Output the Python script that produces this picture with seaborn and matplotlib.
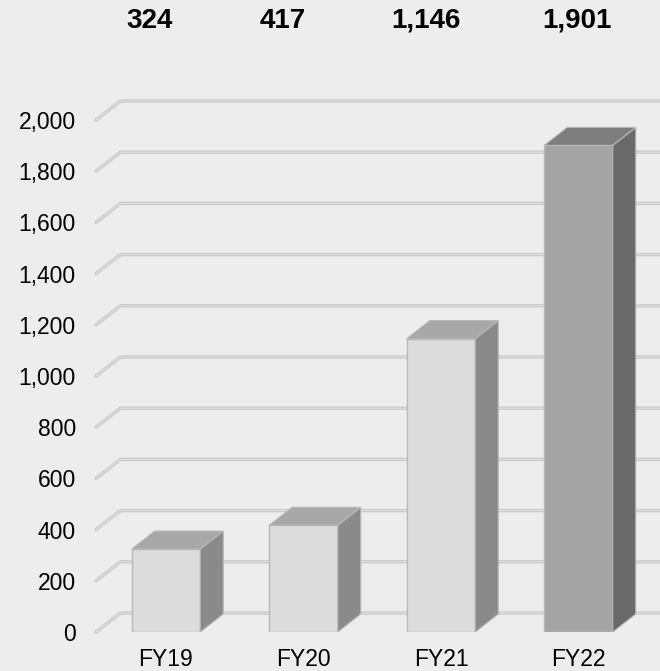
import matplotlib
matplotlib.use("Agg")
import matplotlib.pyplot as plt
from matplotlib.patches import Polygon
import seaborn as sns
import pandas as pd

# Data
years = ["FY19", "FY20", "FY21", "FY22"]
values = [324, 417, 1146, 1901]
value_labels = ["324", "417", "1,146", "1,901"]
y_ticks = [0, 200, 400, 600, 800, 1000, 1200, 1400, 1600, 1800, 2000]
y_tick_labels = ["0", "200", "400", "600", "800", "1,000", "1,200", "1,400",
                 "1,600", "1,800", "2,000"]

# Styling
bg = "#ededed"
front_colors = ["#dcdcdc", "#dcdcdc", "#dcdcdc", "#a4a4a4"]
top_colors = ["#a8a8a8", "#a8a8a8", "#a8a8a8", "#7e7e7e"]
side_colors = ["#8a8a8a", "#8a8a8a", "#8a8a8a", "#6a6a6a"]
label_shift = [-0.12, -0.15, -0.11, -0.01]

sns.set_theme(style="white")
plt.rcParams["font.family"] = ["Liberation Sans", "DejaVu Sans"]

W, H = 660, 671
fig = plt.figure(figsize=(W / 100, H / 100), dpi=100, facecolor=bg)

# Axes: front plane left edge at px 96, baseline at px 632
left_px, base_px = 96, 632
ax = fig.add_axes([left_px / W, (H - base_px) / H, (W - left_px) / W, base_px / H])
ax.set_facecolor(bg)

px_per_cat = 137.5
px_per_unit = 0.256
x0 = (left_px - 166) / px_per_cat
x1 = (W - 166) / px_per_cat

df = pd.DataFrame({"year": years, "value": values})
bar_w = 68.5 / px_per_cat
sns.barplot(data=df, x="year", y="value", hue="year", palette=front_colors,
            width=bar_w, edgecolor="#b8b8b8", linewidth=1.0, legend=False,
            ax=ax, zorder=3)
ax.set_xlim(x0, x1)
ax.set_ylim(0, base_px / px_per_unit)

# Depth of the 3D effect
gdx, gdy = 24.5 / px_per_cat, 19 / px_per_unit
bdx, bdy = 23 / px_per_cat, 18 / px_per_unit

# Grid lines: short diagonal from front plane, then along the back wall
for v in y_ticks:
    xs = [x0, x0 + gdx, x1 + 1]
    ys = [v, v + gdy, v + gdy]
    ax.plot(xs, ys, color="#c6c6c6", lw=2.4, solid_capstyle="round",
            zorder=1, clip_on=False)
    ax.plot(xs, ys, color="#e4e4e4", lw=0.8, solid_capstyle="round",
            zorder=1.1, clip_on=False)

# Top and side faces of each bar
for patch, v, tc, sc in zip(ax.patches, values, top_colors, side_colors):
    xl = patch.get_x()
    xr = xl + patch.get_width()
    top = Polygon([(xl, v), (xr, v), (xr + bdx, v + bdy), (xl + bdx, v + bdy)],
                  closed=True, facecolor=tc, edgecolor="#b8b8b8", lw=0.8,
                  zorder=3.5)
    side = Polygon([(xr, 0), (xr + bdx, bdy), (xr + bdx, v + bdy), (xr, v)],
                   closed=True, facecolor=sc, edgecolor="#b8b8b8", lw=0.8,
                   zorder=3.4)
    ax.add_patch(side)
    ax.add_patch(top)

# Value labels across the top
label_y = (base_px - 20.5) / px_per_unit
for i, (lab, s) in enumerate(zip(value_labels, label_shift)):
    ax.text(i + s, label_y, lab, ha="center", va="center", fontsize=20,
            fontweight="bold", color="black", clip_on=False)

# Axes text
ax.set_yticks(y_ticks)
ax.set_yticklabels(y_tick_labels)
ax.set_xticks(range(len(years)))
ax.set_xticklabels(years)
ax.tick_params(axis="y", length=0, pad=14.5, labelsize=16.5, labelcolor="black")
ax.tick_params(axis="x", length=0, pad=11.5, labelsize=16.5, labelcolor="black")
ax.set_xlabel("")
ax.set_ylabel("")
for sp in ax.spines.values():
    sp.set_visible(False)

fig.savefig("out.png", dpi=100, facecolor=bg)
